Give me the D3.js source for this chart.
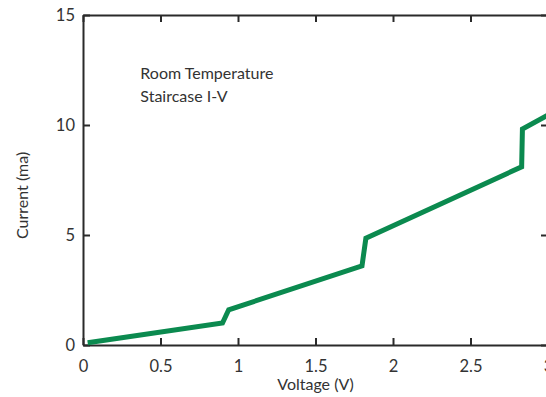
<!DOCTYPE html>
<html>
<head>
<meta charset="utf-8">
<script src="https://cdn.jsdelivr.net/npm/d3@7"></script>
<style>
  html, body { margin: 0; padding: 0; background: #fff; overflow: hidden; }
  svg text { font-family: "Lato", "Noto Sans", sans-serif; fill: #333; }
  .axis path, .axis line { stroke: #2a2a2a; stroke-width: 2; }
</style>
</head>
<body>
<svg id="chart" width="546" height="397"></svg>
<script>
// Staircase I-V curve
var voltage = [0.03, 0.90, 0.94, 1.80, 1.825, 2.83, 2.835, 3.0];
var current = [0.1, 1.0, 1.6, 3.6, 4.85, 8.1, 9.82, 10.45];

var xTicks = [0, 0.5, 1, 1.5, 2, 2.5, 3];
var yTicks = [0, 5, 10, 15];

var noteLines = ['Room Temperature', 'Staircase I-V'];

var margin = {top: 15, right: -2, bottom: 52, left: 83};
var svg = d3.select('#chart');
var width = 546 - margin.left - margin.right;
var height = 397 - margin.top - margin.bottom;

var x = d3.scaleLinear().domain([0, 3]).range([0, width]);
var y = d3.scaleLinear().domain([0, 15]).range([height, 0]);

var g = svg.append('g')
    .attr('transform', 'translate(' + margin.left + ',' + margin.top + ')');

// Frame with inward ticks on all four sides.
g.append('g').attr('class', 'axis')
    .attr('transform', 'translate(0,' + height + ')')
    .call(d3.axisBottom(x).tickValues(xTicks).tickSizeInner(-7).tickSizeOuter(0)
        .tickPadding(15).tickFormat(d3.format('')));

g.append('g').attr('class', 'axis')
    .call(d3.axisTop(x).tickValues(xTicks).tickSizeInner(-7).tickSizeOuter(0)
        .tickFormat(''));

g.append('g').attr('class', 'axis')
    .call(d3.axisLeft(y).tickValues(yTicks).tickSizeInner(-7).tickSizeOuter(0)
        .tickPadding(8));

g.append('g').attr('class', 'axis')
    .attr('transform', 'translate(' + width + ',0)')
    .call(d3.axisRight(y).tickValues(yTicks).tickSizeInner(-7).tickSizeOuter(0)
        .tickFormat(''));

g.selectAll('.axis text')
    .style('font-size', '16.5px')
    .attr('fill', '#333');
g.selectAll('.axis .domain').attr('stroke', '#2a2a2a');

// The I-V line.
var points = voltage.map(function(v, i) { return [v, current[i]]; });
var line = d3.line()
    .x(function(d) { return x(d[0]); })
    .y(function(d) { return y(d[1]); });

g.append('path')
    .datum(points)
    .attr('d', line)
    .attr('fill', 'none')
    .attr('stroke', '#0b8a4f')
    .attr('stroke-width', 5)
    .attr('stroke-linejoin', 'miter');

// Annotation in the upper left.
var note = g.append('text')
    .attr('x', x(0.37))
    .attr('y', y(12.1))
    .style('font-size', '16px');
note.selectAll('tspan')
    .data(noteLines)
    .enter()
    .append('tspan')
        .attr('x', x(0.37))
        .attr('dy', function(d, i) { return i === 0 ? 0 : 23; })
        .text(function(d) { return d; });

// Axis titles.
svg.append('text')
    .attr('x', margin.left + x(1.5))
    .attr('y', 390)
    .attr('text-anchor', 'middle')
    .style('font-size', '16px')
    .text('Voltage (V)');

svg.append('text')
    .attr('transform', 'translate(28,' + (margin.top + y(6.8)) + ') rotate(-90)')
    .attr('text-anchor', 'middle')
    .style('font-size', '16px')
    .text('Current (ma)');
</script>
</body>
</html>
